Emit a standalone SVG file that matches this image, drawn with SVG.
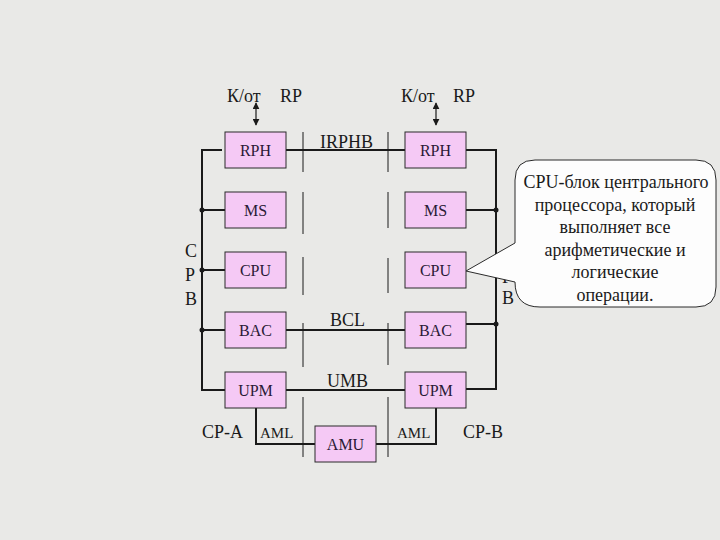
<svg xmlns="http://www.w3.org/2000/svg" width="720" height="540" viewBox="0 0 720 540">
  <style>
    .bg { fill: #e9e9e7; }
    .box { fill: #f5c9f5; stroke: #2a2a2a; stroke-width: 1; }
    text { font-family: "Liberation Serif", "DejaVu Serif", serif; }
    .lbl { font-size: 16px; fill: #2a1a35; text-anchor: middle; }
    .t18 { font-size: 18px; fill: #1a1a1a; }
    .t15 { font-size: 15px; fill: #1a1a1a; }
    .bus { fill: none; stroke: #1a1a1a; stroke-width: 2; }
    .div { fill: none; stroke: #1a1a1a; stroke-width: 1; }
    .dot { fill: #1a1a1a; }
    .arr { fill: none; stroke: #1a1a1a; stroke-width: 1.2; }
    .call { fill: #fdfdfd; stroke: #2a2a2a; stroke-width: 1; }
    .ct { font-size: 18px; fill: #1a1a1a; text-anchor: middle; }
  </style>
  <defs>
    <marker id="ah" viewBox="0 0 10 10" refX="9" refY="5" markerWidth="7" markerHeight="7" markerUnits="userSpaceOnUse" orient="auto-start-reverse">
      <path d="M0,0 L10,5 L0,10 Z" fill="#1a1a1a"/>
    </marker>
  </defs>
  <rect class="bg" x="0" y="0" width="720" height="540"/>

  <!-- top labels -->
  <g id="kot-left">
    <text class="t18" x="227" y="102">К/от</text>
    <text class="t18" x="280" y="102">RP</text>
  </g>
  <g id="kot-right">
    <text class="t18" x="401" y="102">К/от</text>
    <text class="t18" x="453" y="102">RP</text>
  </g>

  <!-- side labels -->
  <g id="cpb-left">
    <text class="t18" x="185" y="257">С</text>
    <text class="t18" x="185" y="281">Р</text>
    <text class="t18" x="185" y="305">В</text>
  </g>
  <g id="cpb-right">
    <text class="t18" x="503" y="263">С</text>
    <text class="t18" x="502" y="283">Р</text>
    <text class="t18" x="502" y="304">В</text>
  </g>

  <!-- connectors -->
  <g id="connectors">
    <!-- dividers -->
    <path class="div" d="M303,132 V172 M303,192 V234 M303,257 V295 M303,323 V367 M303,397 V457"/>
    <path class="div" d="M388,132 V172 M388,192 V228 M388,258 V293 M388,323 V365 M388,397 V457"/>
    <!-- double arrows -->
    <line class="arr" x1="256" y1="103" x2="256" y2="125" marker-start="url(#ah)" marker-end="url(#ah)"/>
    <line class="arr" x1="436" y1="103" x2="436" y2="125" marker-start="url(#ah)" marker-end="url(#ah)"/>
    <!-- left bus -->
    <path class="bus" d="M222,150 H202 V390 H225"/>
    <path class="bus" d="M202,210 H225 M202,270 H225 M202,330 H225"/>
    <circle class="dot" cx="202" cy="210" r="2.5"/>
    <circle class="dot" cx="202" cy="270" r="2.5"/>
    <circle class="dot" cx="202" cy="330" r="2.5"/>
    <!-- right bus -->
    <path class="bus" d="M466,150 H496 V389 H466"/>
    <path class="bus" d="M466,210 H496 M466,324 H496"/>
    <circle class="dot" cx="496" cy="210" r="2.5"/>
    <circle class="dot" cx="496" cy="324" r="2.5"/>
    <!-- cross links -->
    <path class="bus" d="M286,150 H405 M286,330 H405 M286,390 H405"/>
    <!-- AML links -->
    <path class="bus" d="M256,408 V444 H315 M376,444 H436 V408"/>
  </g>

  <!-- link labels -->
  <g id="link-labels">
    <text class="t18" x="320" y="148">IRPHB</text>
    <text class="t18" x="330" y="326">BCL</text>
    <text class="t18" x="327" y="387">UMB</text>
    <text class="t18" x="202" y="438">CP-A</text>
    <text class="t15" x="260" y="438">AML</text>
    <text class="t15" x="397" y="438">AML</text>
    <text class="t18" x="463" y="438">CP-B</text>
  </g>

  <!-- left column -->
  <g id="rph-a"><rect class="box" x="225" y="132" width="61" height="36"/><text class="lbl" x="255.5" y="156">RPH</text></g>
  <g id="ms-a"><rect class="box" x="225" y="192" width="61" height="36"/><text class="lbl" x="255.5" y="216">MS</text></g>
  <g id="cpu-a"><rect class="box" x="225" y="252" width="61" height="36"/><text class="lbl" x="255.5" y="276">CPU</text></g>
  <g id="bac-a"><rect class="box" x="225" y="312" width="61" height="36"/><text class="lbl" x="255.5" y="336">BAC</text></g>
  <g id="upm-a"><rect class="box" x="225" y="372" width="61" height="36"/><text class="lbl" x="255.5" y="396">UPM</text></g>

  <!-- right column -->
  <g id="rph-b"><rect class="box" x="405" y="132" width="61" height="36"/><text class="lbl" x="435.5" y="156">RPH</text></g>
  <g id="ms-b"><rect class="box" x="405" y="192" width="61" height="36"/><text class="lbl" x="435.5" y="216">MS</text></g>
  <g id="cpu-b"><rect class="box" x="405" y="252" width="61" height="36"/><text class="lbl" x="435.5" y="276">CPU</text></g>
  <g id="bac-b"><rect class="box" x="405" y="312" width="61" height="36"/><text class="lbl" x="435.5" y="336">BAC</text></g>
  <g id="upm-b"><rect class="box" x="405" y="372" width="61" height="36"/><text class="lbl" x="435.5" y="396">UPM</text></g>

  <!-- AMU -->
  <g id="amu"><rect class="box" x="315" y="426" width="61" height="36"/><text class="lbl" x="345.5" y="450">AMU</text></g>

  <!-- callout -->
  <g id="callout">
    <path class="call" d="M535,160 H696 Q716,160 716,180 V287 Q716,307 696,307 H540 Q515,307 515,282 L466,271 L515,243 V180 Q515,160 535,160 Z"/>
    <text class="ct" x="616" y="188">CPU-блок центрального</text>
    <text class="ct" x="615" y="211">процессора, который</text>
    <text class="ct" x="615" y="233">выполняет все</text>
    <text class="ct" x="615" y="256">арифметические и</text>
    <text class="ct" x="615" y="278">логические</text>
    <text class="ct" x="615" y="301">операции.</text>
  </g>
</svg>
